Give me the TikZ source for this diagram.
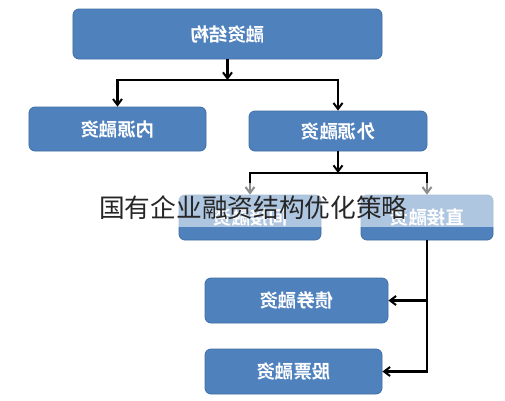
\documentclass[tikz,border=0pt]{standalone}
\usepackage{fontspec}
\usepackage{graphicx}
\usetikzlibrary{arrows.meta}
\newfontfamily\cjk{Noto Sans CJK SC}
\newfontfamily\cjkbold{Noto Sans CJK SC Bold}
\definecolor{boxblue}{HTML}{4F81BD}
\definecolor{boxedge}{HTML}{3F6FA6}
\newcommand{\mirr}[1]{\scalebox{-1}[1]{#1}}
\tikzset{
  box/.style={draw=boxedge, line width=0.8bp, fill=boxblue, rounded corners=6bp,
    text=white, font=\cjkbold\fontsize{18.5bp}{22bp}\selectfont, inner sep=0pt},
  link/.style={draw=black, line width=2.3bp, -{Straight Barb[length=6bp,width=9bp,line width=2bp]}}
}
\begin{document}
\begin{tikzpicture}[x=1bp,y=-1bp]
\useasboundingbox (0,0) rectangle (505,400);
\fill[white] (0,0) rectangle (505,400);
% boxes
\node[box, minimum width=309bp, minimum height=50bp] (top) at (227.5,34) {\mirr{融资结构}};
\node[box, minimum width=177bp, minimum height=44bp] (nei) at (117.5,129) {\mirr{内源融资}};
\node[box, minimum width=178bp, minimum height=40bp] (wai) at (338,131) {\mirr{外源融资}};
\node[box, minimum width=142bp, minimum height=45bp] (jian) at (250,217.5) {\mirr{间接融资}};
\node[box, minimum width=132bp, minimum height=45bp] (zhi) at (427,217.5) {\mirr{直接融资}};
\node[box, minimum width=183bp, minimum height=45bp] (zhai) at (296.5,300.5) {\mirr{债券融资}};
\node[box, minimum width=177bp, minimum height=45bp] (gu) at (293.5,371.5) {\mirr{股票融资}};
% junctions
\coordinate (j1) at (227.5,80);
\coordinate (j2) at (338,173);
% connectors
\draw[link] (top.south) -- (j1);
\draw[link] (j1) -| (nei.north);
\draw[link] (j1) -| (wai.north);
\draw[link] (wai.south) -- (j2);
\draw[link] (j2) -| (jian.north);
\draw[link] (j2) -| (zhi.north);
\draw[link] (zhi.south) |- (zhai.east);
\draw[link] (zhi.south) |- (gu.east);
% translucent watermark band
\fill[white, opacity=0.55] (0,183) rectangle (505,227);
\node[anchor=west, inner sep=0pt, text=black!85, font=\cjk\fontsize{25.7bp}{28bp}\selectfont] (wm) at (99,208) {国有企业融资结构优化策略};
\end{tikzpicture}
\end{document}
